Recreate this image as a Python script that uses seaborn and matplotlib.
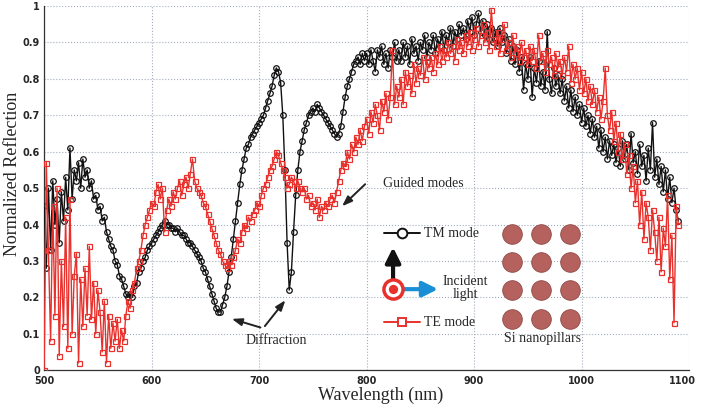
import numpy as np
import matplotlib
matplotlib.use("Agg")
import matplotlib.pyplot as plt
import matplotlib.transforms as mtransforms
import seaborn as sns
from matplotlib.ticker import FuncFormatter

# wavelength grid (nm), 2 nm sampling
wavelength = np.arange(500, 1091, 2)

# TM mode (black, circles)
tm_mode = [
    0.45, 0.28, 0.50, 0.33, 0.52, 0.40, 0.47, 0.35, 0.49, 0.41, 0.53, 0.44, 0.61, 0.47, 0.55,
    0.52, 0.57, 0.50, 0.58, 0.53, 0.55, 0.50, 0.52, 0.47, 0.48, 0.44, 0.45, 0.41, 0.42, 0.38,
    0.36, 0.34, 0.33, 0.30, 0.29, 0.26, 0.25, 0.23, 0.21, 0.20, 0.21, 0.20, 0.23, 0.24, 0.27,
    0.28, 0.30, 0.31, 0.33, 0.34, 0.35, 0.36, 0.37, 0.38, 0.39, 0.40, 0.41, 0.40, 0.40, 0.39,
    0.39, 0.38, 0.39, 0.38, 0.37, 0.37, 0.36, 0.35, 0.35, 0.34, 0.33, 0.32, 0.31, 0.30, 0.28,
    0.27, 0.25, 0.23, 0.21, 0.19, 0.17, 0.16, 0.16, 0.18, 0.20, 0.23, 0.27, 0.31, 0.36, 0.41,
    0.46, 0.51, 0.55, 0.58, 0.61, 0.62, 0.64, 0.65, 0.66, 0.67, 0.68, 0.69, 0.70, 0.72, 0.74,
    0.76, 0.78, 0.81, 0.83, 0.82, 0.79, 0.70, 0.55, 0.35, 0.22, 0.27, 0.38, 0.48, 0.55, 0.60,
    0.63, 0.66, 0.68, 0.70, 0.71, 0.72, 0.71, 0.73, 0.72, 0.71, 0.70, 0.69, 0.68, 0.67, 0.66,
    0.65, 0.64, 0.65, 0.67, 0.71, 0.75, 0.78, 0.80, 0.82, 0.84, 0.85, 0.86, 0.84, 0.87, 0.85,
    0.87, 0.84, 0.88, 0.85, 0.82, 0.88, 0.86, 0.89, 0.84, 0.87, 0.83, 0.88, 0.86, 0.90, 0.85,
    0.88, 0.85, 0.90, 0.86, 0.89, 0.84, 0.91, 0.87, 0.89, 0.85, 0.90, 0.88, 0.92, 0.86, 0.90,
    0.88, 0.92, 0.87, 0.91, 0.89, 0.93, 0.88, 0.92, 0.90, 0.94, 0.89, 0.93, 0.91, 0.95, 0.92,
    0.94, 0.91, 0.96, 0.93, 0.97, 0.92, 0.95, 0.98, 0.93, 0.96, 0.92, 0.95, 0.91, 0.94, 0.90,
    0.93, 0.89, 0.94, 0.90, 0.92, 0.87, 0.91, 0.85, 0.89, 0.84, 0.88, 0.82, 0.86, 0.77, 0.84,
    0.80, 0.86, 0.75, 0.83, 0.79, 0.85, 0.78, 0.82, 0.77, 0.93, 0.80, 0.76, 0.83, 0.78, 0.81,
    0.76, 0.80, 0.74, 0.78, 0.72, 0.77, 0.71, 0.75, 0.70, 0.73, 0.68, 0.72, 0.67, 0.70, 0.65,
    0.69, 0.64, 0.67, 0.61, 0.66, 0.60, 0.64, 0.58, 0.63, 0.59, 0.62, 0.57, 0.61, 0.56, 0.63,
    0.58, 0.62, 0.55, 0.65, 0.57, 0.60, 0.54, 0.62, 0.56, 0.59, 0.52, 0.61, 0.55, 0.68, 0.53,
    0.58, 0.51, 0.56, 0.49, 0.55, 0.47, 0.53, 0.46, 0.50, 0.44, 0.41,
]

# TE mode (red, squares)
te_mode = [
    0.00, 0.57, 0.33, 0.08, 0.45, 0.15, 0.50, 0.04, 0.30, 0.12, 0.42, 0.06, 0.47, 0.10, 0.26,
    0.32, 0.02, 0.25, 0.12, 0.28, 0.15, 0.34, 0.14, 0.24, 0.10, 0.22, 0.16, 0.05, 0.19, 0.02,
    0.15, 0.06, 0.13, 0.08, 0.14, 0.06, 0.11, 0.08, 0.15, 0.19, 0.17, 0.22, 0.24, 0.28, 0.30,
    0.33, 0.37, 0.40, 0.42, 0.44, 0.46, 0.45, 0.49, 0.51, 0.47, 0.50, 0.38, 0.44, 0.47, 0.45,
    0.49, 0.47, 0.50, 0.52, 0.48, 0.51, 0.53, 0.50, 0.54, 0.58, 0.52, 0.50, 0.49, 0.48, 0.46,
    0.45, 0.43, 0.41, 0.39, 0.37, 0.35, 0.33, 0.32, 0.30, 0.29, 0.28, 0.30, 0.29, 0.31, 0.33,
    0.36, 0.35, 0.38, 0.40, 0.39, 0.42, 0.41, 0.43, 0.44, 0.46, 0.45, 0.48, 0.50, 0.51, 0.53,
    0.55, 0.56, 0.58, 0.60, 0.59, 0.57, 0.55, 0.53, 0.50, 0.51, 0.53, 0.52, 0.50, 0.52, 0.50,
    0.49, 0.50, 0.47, 0.48, 0.45, 0.46, 0.44, 0.47, 0.42, 0.45, 0.44, 0.46, 0.45, 0.47, 0.48,
    0.46, 0.49, 0.52, 0.55, 0.57, 0.56, 0.60, 0.58, 0.62, 0.60, 0.64, 0.62, 0.66, 0.63, 0.67,
    0.69, 0.65, 0.71, 0.68, 0.73, 0.70, 0.66, 0.74, 0.71, 0.76, 0.69, 0.75, 0.88, 0.73, 0.78,
    0.75, 0.80, 0.73, 0.82, 0.78, 0.81, 0.76, 0.84, 0.79, 0.83, 0.81, 0.86, 0.80, 0.85, 0.83,
    0.86, 0.82, 0.87, 0.84, 0.89, 0.85, 0.88, 0.86, 0.90, 0.87, 0.89, 0.85, 0.91, 0.88, 0.90,
    0.87, 0.92, 0.89, 0.93, 0.88, 0.91, 0.94, 0.89, 0.92, 0.95, 0.90, 0.93, 0.88, 0.99, 0.91,
    0.89, 0.93, 0.87, 0.91, 0.95, 0.88, 0.90, 0.86, 0.92, 0.87, 0.89, 0.85, 0.90, 0.86, 0.88,
    0.84, 0.89, 0.85, 0.88, 0.83, 0.92, 0.85, 0.87, 0.82, 0.88, 0.84, 0.86, 0.81, 0.87, 0.83,
    0.85, 0.81, 0.86, 0.82, 0.89, 0.79, 0.84, 0.80, 0.83, 0.77, 0.82, 0.76, 0.80, 0.74, 0.78,
    0.73, 0.77, 0.71, 0.75, 0.69, 0.74, 0.83, 0.70, 0.66, 0.71, 0.63, 0.68, 0.60, 0.65, 0.58,
    0.62, 0.54, 0.59, 0.50, 0.56, 0.46, 0.52, 0.40, 0.49, 0.36, 0.46, 0.42, 0.33, 0.44, 0.38,
    0.30, 0.42, 0.27, 0.39, 0.34, 0.48, 0.25, 0.37, 0.13, 0.45, 0.40,
]

black = '#111111'
red = '#e8312c'

sns.set_style("white")
plt.rcParams['font.family'] = ['DejaVu Sans']

fig = plt.figure(figsize=(7.01, 4.05), dpi=100)
ax = fig.add_axes([0.063, 0.086, 0.920, 0.899])

sns.lineplot(x=wavelength, y=tm_mode, ax=ax, color=black, lw=1.0,
             marker='o', markersize=4, markerfacecolor='none',
             markeredgecolor=black, markeredgewidth=0.9, zorder=3)
sns.lineplot(x=wavelength, y=te_mode, ax=ax, color=red, lw=1.0,
             marker='s', markersize=3.6, markerfacecolor='none',
             markeredgecolor=red, markeredgewidth=0.9, zorder=4)

ax.set_xlim(500, 1100)
ax.set_ylim(0, 1)
ax.set_xticks(range(500, 1101, 100))
ax.set_yticks(np.arange(0, 1.01, 0.1))
ax.yaxis.set_major_formatter(FuncFormatter(lambda v, p: '%g' % round(v, 1)))
ax.tick_params(labelsize=7, length=2, direction='in')
ax.tick_params(axis='y', pad=3)
ax.tick_params(axis='x', pad=4)
for lab in ax.get_xticklabels() + ax.get_yticklabels():
    lab.set_fontweight('bold')
# nudge the last x label so it stays inside the canvas, as in the original
last = ax.get_xticklabels()[-1]
last.set_transform(last.get_transform() +
                   mtransforms.ScaledTranslation(-5 / 72, 0, fig.dpi_scale_trans))
ax.grid(True, linestyle=':', color='#a3adbd', linewidth=0.8)
for s in ['top', 'right']:
    ax.spines[s].set_visible(False)
for s in ['left', 'bottom']:
    ax.spines[s].set_color('#333333')
    ax.spines[s].set_linewidth(0.9)

serif = ['Liberation Serif', 'DejaVu Serif']
ax.set_xlabel('Wavelength (nm)', family=serif, fontsize=13)
ax.xaxis.set_label_coords(0.521, -0.046, transform=ax.transAxes)
ax.xaxis.label.set_va('top')
ax.set_ylabel('Normalized Reflection', family=serif, fontsize=13)
ax.yaxis.set_label_coords(-0.036, 0.54)

# annotations
arw = dict(arrowstyle='-|>,head_length=0.6,head_width=0.22', color='#222222', lw=1.4)
ax.text(815, 0.514, 'Guided modes', family=serif, fontsize=10, va='center', ha='left')
ax.annotate('', xy=(775.3, 0.445), xytext=(800.5, 0.516), arrowprops=arw)
ax.text(716, 0.082, 'Diffraction', family=serif, fontsize=10, va='center', ha='center')
ax.annotate('', xy=(672.1, 0.143), xytext=(703.7, 0.115), arrowprops=arw)
ax.annotate('', xy=(726, 0.198), xytext=(703.7, 0.115), arrowprops=arw)

# legend-like diagram
T = ax.transAxes
ax.plot([0.527, 0.555, 0.583], [0.376] * 3, transform=T, color=black, lw=1.4,
        marker='o', markevery=[1], markersize=7, markerfacecolor='white',
        markeredgewidth=1.4, clip_on=False, zorder=6)
ax.text(0.589, 0.376, 'TM mode', transform=T, family=serif, fontsize=10, va='center')
ax.plot([0.527, 0.555, 0.583], [0.132] * 3, transform=T, color=red, lw=1.4,
        marker='s', markevery=[1], markersize=6, markerfacecolor='white',
        markeredgewidth=1.4, clip_on=False, zorder=6)
ax.text(0.589, 0.132, 'TE mode', transform=T, family=serif, fontsize=10, va='center')

ax.annotate('', xy=(0.615, 0.2225), xytext=(0.543, 0.2225), xycoords=T, textcoords=T,
            arrowprops=dict(arrowstyle='-|>,head_length=0.9,head_width=0.45',
                            color='#1b8fd6', lw=3), zorder=6)
ax.annotate('', xy=(0.541, 0.345), xytext=(0.541, 0.222), xycoords=T, textcoords=T,
            arrowprops=dict(arrowstyle='-|>,head_length=0.9,head_width=0.45',
                            color=black, lw=3), zorder=6)
ax.scatter([0.541], [0.2225], transform=T, s=190, facecolor='white', edgecolor=red,
           linewidth=2.5, zorder=7)
ax.scatter([0.541], [0.2225], transform=T, s=32, color=red, zorder=8)
ax.text(0.653, 0.225, 'Incident\nlight', transform=T, family=serif, fontsize=10,
        ha='center', va='center', linespacing=1.05)

cols = [0.7256, 0.7705, 0.8155]
rows = [0.3736, 0.2967, 0.2198, 0.1401]
for r in rows:
    ax.scatter(cols, [r] * 3, transform=T, s=200, color='#b5615d',
               edgecolor='#8f4b48', linewidth=0.6, zorder=6)
ax.text(0.772, 0.088, 'Si nanopillars', transform=T, family=serif, fontsize=10,
        ha='center', va='center')

plt.savefig('out.png', dpi=100)
